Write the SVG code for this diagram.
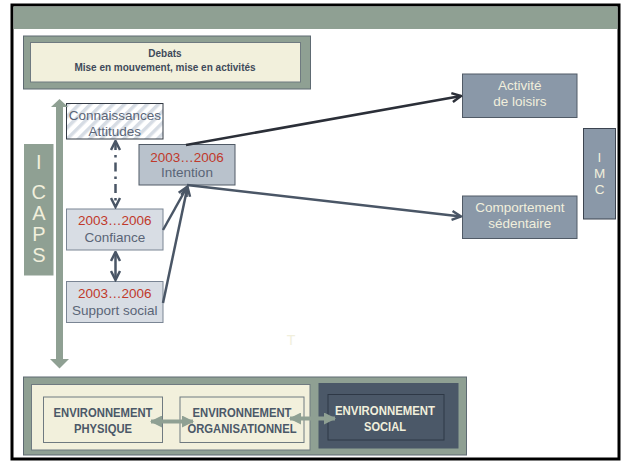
<svg xmlns="http://www.w3.org/2000/svg" width="622" height="461" viewBox="0 0 622 461">
<defs>
<style>
text{font-family:"Liberation Sans",Arial,sans-serif;text-anchor:middle;dominant-baseline:central}
.lbl{font-size:13.5px;fill:#5a6577}
.yr{font-size:13.5px;fill:#c0392b}
.crm{font-size:13.5px;fill:#f1efdc}
.env{font-size:13px;font-weight:bold;fill:#4b5868}
.envs{font-size:13px;font-weight:bold;fill:#f1efdc}
.dark{stroke:#4a5666;stroke-width:2.5;fill:none}
.darker{stroke:#2b2f38;stroke-width:2.5;fill:none}
.grn{stroke:#8fa093;stroke-width:4;fill:none}
</style>
<pattern id="hatch" width="8" height="8" patternUnits="userSpaceOnUse" patternTransform="rotate(45)">
<rect width="8" height="8" fill="#ffffff"/>
<rect width="3.5" height="8" fill="#d6dce4"/>
</pattern>
<marker id="chev" viewBox="0 0 12 12" refX="10.5" refY="6" markerWidth="12" markerHeight="12" orient="auto-start-reverse" markerUnits="userSpaceOnUse">
<path d="M1.5,1.5 L10.5,6 L1.5,10.5" fill="none" stroke="#4a5666" stroke-width="2.5" stroke-linejoin="miter"/>
</marker>
<marker id="chevd" viewBox="0 0 12 12" refX="10.5" refY="6" markerWidth="12" markerHeight="12" orient="auto-start-reverse" markerUnits="userSpaceOnUse">
<path d="M1.5,1.5 L10.5,6 L1.5,10.5" fill="none" stroke="#2b2f38" stroke-width="2.5"/>
</marker>
<marker id="tri" viewBox="0 0 12 12" refX="11" refY="6" markerWidth="12" markerHeight="12" orient="auto-start-reverse" markerUnits="userSpaceOnUse">
<path d="M0,0 L12,6 L0,12 Z" fill="#8fa093"/>
</marker>
</defs>

<g id="frame">
<rect x="12" y="5" width="607" height="454" fill="#ffffff" stroke="#000000" stroke-width="3"/>
<rect x="13.5" y="6.5" width="604" height="22.5" fill="#8fa093"/>
</g>

<g id="debats">
<rect x="23.5" y="36" width="287" height="53" fill="#8fa093" stroke="#5e6a72" stroke-width="1"/>
<rect x="30.5" y="42.5" width="270" height="39.5" fill="#f2f0dc" stroke="#6f7a80" stroke-width="1"/>
<text x="165" y="53" style="font-size:10px;font-weight:bold;fill:#3f4a5a">Debats</text>
<text x="165" y="67" style="font-size:10px;font-weight:bold;fill:#3f4a5a">Mise en mouvement, mise en activités</text>
</g>

<g id="icaps">
<rect x="24" y="144" width="29.5" height="131.5" fill="#8fa093"/>
<text x="38.8" y="162" style="font-size:20px;fill:#f1efdc">I</text>
<text x="38.8" y="191.5" style="font-size:20px;fill:#f1efdc">C</text>
<text x="38.8" y="212.5" style="font-size:20px;fill:#f1efdc">A</text>
<text x="38.8" y="233.5" style="font-size:20px;fill:#f1efdc">P</text>
<text x="38.8" y="255" style="font-size:20px;fill:#f1efdc">S</text>
</g>

<g id="connaissances">
<rect x="66.5" y="103.5" width="96.5" height="35.5" fill="url(#hatch)" stroke="#333a44" stroke-width="1"/>
<text class="lbl" x="114.8" y="115">Connaissances</text>
<text class="lbl" x="114.8" y="131">Attitudes</text>
</g>

<g id="intention">
<rect x="139" y="144.5" width="96" height="40.5" fill="#b9c2cc" stroke="#505a66" stroke-width="1"/>
<text class="yr" x="187" y="157">2003…2006</text>
<text class="lbl" x="187" y="172">Intention</text>
</g>

<g id="confiance">
<rect x="66.5" y="209" width="96.5" height="41" fill="#d8dde4" stroke="#7a8594" stroke-width="1"/>
<text class="yr" x="114.8" y="220.5">2003…2006</text>
<text class="lbl" x="114.8" y="237">Confiance</text>
</g>

<g id="support">
<rect x="66.5" y="281.5" width="96.5" height="41" fill="#d8dde4" stroke="#7a8594" stroke-width="1"/>
<text class="yr" x="114.8" y="293">2003…2006</text>
<text class="lbl" x="114.8" y="310">Support social</text>
</g>

<g id="loisirs">
<rect x="462.5" y="74" width="114.5" height="43.5" fill="#8a98a8" stroke="#505a66" stroke-width="1"/>
<text class="crm" x="519.8" y="85.5">Activité</text>
<text class="crm" x="519.8" y="101.5">de loisirs</text>
</g>

<g id="sedentaire">
<rect x="462.5" y="196" width="114.5" height="42.5" fill="#8a98a8" stroke="#505a66" stroke-width="1"/>
<text class="crm" x="519.8" y="207">Comportement</text>
<text class="crm" x="519.8" y="223.5">sédentaire</text>
</g>

<g id="imc">
<rect x="583.5" y="128.5" width="32" height="90.5" fill="#8a98a8" stroke="#3c4450" stroke-width="1"/>
<text class="crm" x="599.5" y="157">I</text>
<text class="crm" x="599.5" y="173">M</text>
<text class="crm" x="599.5" y="189">C</text>
</g>

<g id="t-label">
<text x="291" y="340" style="font-size:14px;fill:#f1efdc">T</text>
</g>

<g id="environnement">
<rect x="23.5" y="377" width="443" height="78" fill="#8fa093" stroke="#5e6a72" stroke-width="1"/>
<rect x="31.5" y="384.5" width="278.5" height="65.5" fill="#f2f0dc" stroke="#6f7a80" stroke-width="1"/>
<rect x="318.5" y="383" width="140" height="65.5" fill="#4b5868"/>
</g>

<g id="physique">
<rect x="43.5" y="397" width="119" height="45.5" fill="#f2f0dc" stroke="#6f7a80" stroke-width="1"/>
<text class="env" x="103" y="412" textLength="99" lengthAdjust="spacingAndGlyphs">ENVIRONNEMENT</text>
<text class="env" x="103" y="428.5" textLength="58" lengthAdjust="spacingAndGlyphs">PHYSIQUE</text>
</g>

<g id="organisationnel">
<rect x="180" y="397" width="124" height="45.5" fill="#f2f0dc" stroke="#6f7a80" stroke-width="1"/>
<text class="env" x="242" y="412" textLength="99" lengthAdjust="spacingAndGlyphs">ENVIRONNEMENT</text>
<text class="env" x="242" y="428.5" textLength="109" lengthAdjust="spacingAndGlyphs">ORGANISATIONNEL</text>
</g>

<g id="social">
<rect x="328" y="394.5" width="116" height="45.5" fill="none" stroke="#2e3846" stroke-width="1"/>
<text class="envs" x="385" y="410" textLength="100" lengthAdjust="spacingAndGlyphs">ENVIRONNEMENT</text>
<text class="envs" x="385" y="426.5" textLength="42" lengthAdjust="spacingAndGlyphs">SOCIAL</text>
</g>

<g id="connectors">
<line x1="59.5" y1="105" x2="59.5" y2="362" stroke="#8fa093" stroke-width="7"/>
<polygon points="51,107 59.5,99 68,107" fill="#8fa093"/>
<polygon points="50,359 59.5,368.5 69,359" fill="#8fa093"/>
<line x1="115.5" y1="141" x2="115.5" y2="207" class="dark" stroke-dasharray="9,5,2.5,5" marker-start="url(#chev)" marker-end="url(#chev)"/>
<line x1="115.5" y1="252" x2="115.5" y2="280" class="dark" stroke-width="3" marker-start="url(#chev)" marker-end="url(#chev)"/>
<line x1="163" y1="230" x2="187" y2="187" class="dark" marker-end="url(#chev)"/>
<line x1="163" y1="303" x2="187.5" y2="187" class="dark" marker-end="url(#chev)"/>
<line x1="186" y1="145" x2="461" y2="96" class="darker" marker-end="url(#chevd)"/>
<line x1="187" y1="185" x2="461" y2="216.5" class="dark" marker-end="url(#chev)"/>
<line x1="151" y1="421.5" x2="193" y2="421.5" class="grn" marker-start="url(#tri)" marker-end="url(#tri)"/>
<line x1="290" y1="418.5" x2="335" y2="418.5" class="grn" marker-start="url(#tri)" marker-end="url(#tri)"/>
</g>
</svg>
